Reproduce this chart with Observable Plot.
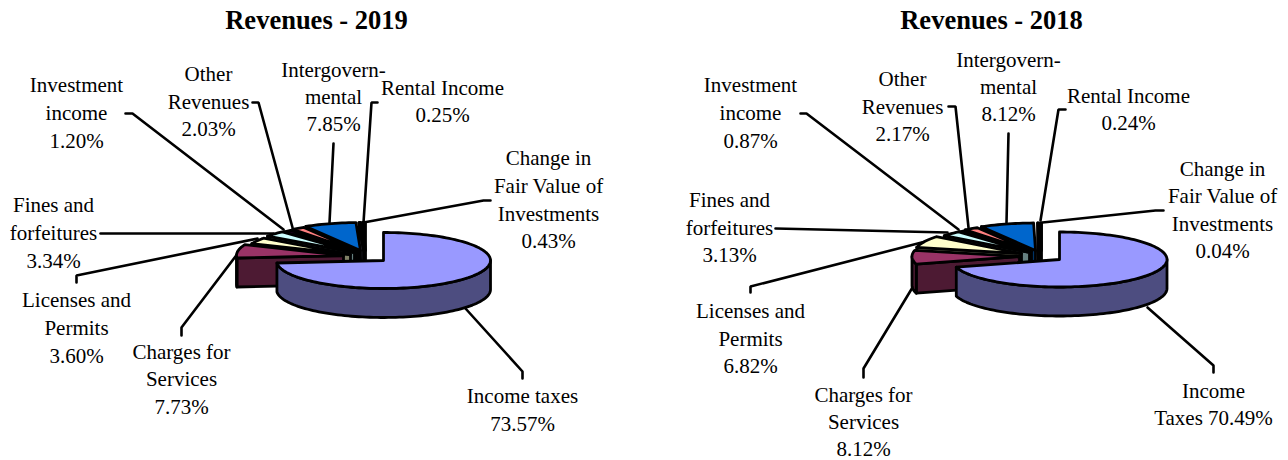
<!DOCTYPE html>
<html>
<head>
<meta charset="utf-8">
<style>html,body{margin:0;padding:0;background:#fff}svg{display:block}</style>
<script src="https://cdn.jsdelivr.net/npm/d3@7"></script>
<script src="https://cdn.jsdelivr.net/npm/@observablehq/plot@0.6"></script>
</head>
<body>
<div id="chart"></div>
<script>
const categories = ["Income taxes","Charges for Services","Licenses and Permits","Fines and forfeitures","Investment income","Other Revenues","Intergovernmental","Rental Income","Change in Fair Value of Investments"];
const values2019 = [73.57,7.73,3.60,3.34,1.20,2.03,7.85,0.25,0.43];
const values2018 = [70.49,8.12,6.82,3.13,0.87,2.17,8.12,0.24,0.04];
const sliceColors = ["#9999FF","#993366","#FFFFCC","#CCFFFF","#660066","#FF8080","#0066CC","#CCCCFF","#000080"];

const labelText2019 = [["Income taxes","73.57%"],["Charges for","Services","7.73%"],["Licenses and","Permits","3.60%"],["Fines and","forfeitures","3.34%"],["Investment","income","1.20%"],["Other","Revenues","2.03%"],["Intergovern-","mental","7.85%"],["Rental Income","0.25%"],["Change in","Fair Value of","Investments","0.43%"]];
const labelText2018 = [["Income","Taxes 70.49%"],["Charges for","Services","8.12%"],["Licenses and","Permits","6.82%"],["Fines and","forfeitures","3.13%"],["Investment","income","0.87%"],["Other","Revenues","2.17%"],["Intergovern-","mental","8.12%"],["Rental Income","0.24%"],["Change in","Fair Value of","Investments","0.04%"]];

// layout: label centre x, first baseline, line step
const labelPos2019 = [[522,402.5,28.5],[181,358.5,27.7],[76,307,27.8],[53,212,27.8],[76,92,28],[208,81,27.5],[333,77,27.2],[442,95,27],[548,165,27.8]];
const labelPos2018 = [[1213,397.5,27],[863,401.5,27],[750,318,27.5],[729,207,27.5],[750,92,28],[902,86,27.5],[1008,67,27],[1128,103,26.8],[1222,176,27.3]];

const leaders2019 = [[[465,308],[522,371],[522,378]],[[181,335],[181,327],[238,252]],[[76,282],[76,275],[257,238]],[[100,233],[273,233]],[[125,113],[132,113],[283,229]],[[252,102],[258,102],[292,227]],[[333,143],[329,222]],[[377,102],[371,102],[363,222]],[[490,200],[483,200],[363,222]]];
const leaders2018 = [[[1147,307],[1213,365],[1213,372]],[[863,377],[863,368],[912,287]],[[750,292],[750,286],[925,241]],[[775,228],[947,232]],[[800,113],[806,113],[958,229]],[[948,106],[955,106],[968,227]],[[1008,133],[1006,222]],[[1065,109],[1058,109],[1040,220]],[[1163,210],[1155,210],[1042,222]]];

// exploded slice apexes
const apex2019 = [[383,260],[343,255],[350,254],[354,252],[356,252],[358,251],[360,250],[363,250],[365,250]];
const apex2018 = [[1059,259],[1019,256],[1021,253],[1029,252],[1030,252],[1031,251],[1035,250],[1039,250],[1041,250]];

const titles = [{t:"Revenues - 2019",x:316,y:28},{t:"Revenues - 2018",x:991,y:28}];

const FONT = "'Liberation Serif','Times New Roman',serif";
const polys = [];
function pie(values, apex, rx, ry, depth) {
  const total = d3.sum(values);
  let acc = 0;
  const slices = values.map((v,i) => {
    const a0 = acc/total*2*Math.PI; acc += v; const a1 = acc/total*2*Math.PI;
    return {i,a0,a1};
  });
  const sample = (ax,ay,a0,a1) => {
    const n = Math.max(2,Math.ceil((a1-a0)/(Math.PI/90)));
    return d3.range(n+1).map(k => {
      const a = a0+(a1-a0)*k/n;
      return [ax+rx*Math.sin(a), ay-ry*Math.cos(a)];
    });
  };
  // painted back to front: last category first, income taxes last
  for (const s of slices.slice().reverse()) {
    const [ax,ay] = apex[s.i];
    const c = sliceColors[s.i];
    const r = d3.rgb(c);
    const side = d3.rgb(r.r/2,r.g/2,r.b/2).formatHex();
    const arc = sample(ax,ay,s.a0,s.a1);
    const down = p => [p[0],p[1]+depth];
    const A = [ax,ay];
    // cut faces that turn toward the viewer
    if (Math.sin(s.a0) < -1e-6) {
      const p = arc[0];
      polys.push({pts:[A,p,down(p),down(A)],fill:side});
    }
    if (Math.sin(s.a1) > 1e-6) {
      const p = arc[arc.length-1];
      polys.push({pts:[A,p,down(p),down(A)],fill:side});
    }
    // rim: front half only
    const f0 = Math.max(s.a0,Math.PI/2), f1 = Math.min(s.a1,3*Math.PI/2);
    if (f1 > f0) {
      const rim = sample(ax,ay,f0,f1);
      polys.push({pts:[...rim,...rim.slice().reverse().map(down)],fill:side});
    }
    polys.push({pts:[A,...arc],fill:c});
  }
}
pie(values2019, apex2019, 107, 28, 29);
pie(values2018, apex2018, 107.5, 27.5, 29);

function labelRows(texts,pos){
  return texts.flatMap((ls,i)=>ls.map((t,j)=>({t,x:pos[i][0],y:pos[i][1]+j*pos[i][2]-7.2})));
}
const labelRowsAll = [...labelRows(labelText2019,labelPos2019),...labelRows(labelText2018,labelPos2018)];
const leaderRows = [...leaders2019,...leaders2018];

const chart = Plot.plot({
  width:1288,height:460,margin:0,
  x:{domain:[0,1288],range:[0,1288],axis:null},
  y:{domain:[0,460],range:[0,460],axis:null},
  style:{background:"#fff",fontFamily:FONT},
  marks:[
    ...leaderRows.map(l=>Plot.line(l,{x:d=>d[0],y:d=>d[1],stroke:"#000",strokeWidth:2.6,strokeLinejoin:"miter"})),
    ...polys.map(p=>Plot.line(p.pts,{x:d=>d[0],y:d=>d[1],curve:"linear-closed",fill:p.fill,stroke:"#000",strokeWidth:2.8,strokeLinejoin:"round"})),
    Plot.text(labelRowsAll,{x:"x",y:"y",text:"t",fontSize:21,fill:"#000",textAnchor:"middle",fontFamily:FONT}),
    Plot.text(titles,{x:"x",y:d=>d.y-8.4,text:"t",fontSize:26.5,fontWeight:"bold",fill:"#000",textAnchor:"middle",fontFamily:FONT})
  ]
});
document.getElementById("chart").appendChild(chart);
</script>
</body>
</html>
